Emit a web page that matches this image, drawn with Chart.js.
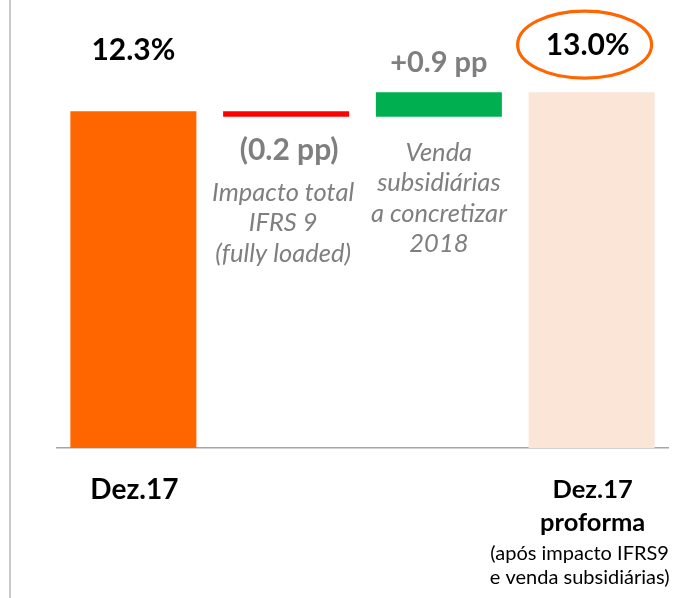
<!DOCTYPE html>
<html>
<head>
<meta charset="utf-8">
<script src="https://cdn.jsdelivr.net/npm/chart.js@4/dist/chart.umd.min.js"></script>
<style>
  html, body { margin: 0; padding: 0; background: #ffffff; }
  #wrap { position: relative; width: 686px; height: 598px; overflow: hidden; }
  #divider { position: absolute; left: 9px; top: 0; width: 2px; height: 598px; background: #c9c9c9; }
  #c { position: absolute; left: 0; top: 0; }
</style>
</head>
<body>
<div id="wrap">
  <div id="divider"></div>
  <canvas id="c" width="686" height="598"></canvas>
</div>
<script>
// ---- data ----
const categories = ["Dez.17", "IFRS 9", "Venda subsidiárias", "Dez.17 proforma"];
const barKinds = ["total", "delta", "delta", "total"];
const values = [12.3, -0.2, 0.9, 13.0];
const valueLabels = ["12.3%", "(0.2 pp)", "+0.9 pp", "13.0%"];
const axisLabels = [["Dez.17"], [], [], ["Dez.17", "proforma"]];
const axisSubLabels = [[], [], [], ["(após impacto IFRS9", "e venda subsidiárias)"]];
const noteLabels = [[], ["Impacto total", "IFRS 9", "(fully loaded)"], ["Venda", "subsidiárias", "a concretizar", "2018"], []];
const barColors = ["#FF6600", "#FF0000", "#00B050", "#FBE5D6"];

// floating bars built from the values
let running = 0;
const floating = values.map((v, i) => {
  if (barKinds[i] === "total") { running = v; return [0, v]; }
  const start = running; running = +(running + v).toFixed(4);
  return [start, running];
});

const FONT = "Lato, 'Open Sans', sans-serif";
const GRAY = "#7F7F7F";

const textPlugin = {
  id: "texts",
  afterDatasetsDraw(chart) {
    const ctx = chart.ctx;
    const meta = chart.getDatasetMeta(0);
    const ys = chart.scales.y;
    const base = ys.getPixelForValue(0);
    ctx.save();
    ctx.textAlign = "center";
    ctx.textBaseline = "middle";
    meta.data.forEach((bar, i) => {
      const x = bar.x;
      const top = Math.min(bar.y, bar.base);
      const bottom = Math.max(bar.y, bar.base);
      if (i === 0) {
        ctx.fillStyle = "#000";
        ctx.font = "bold 30px " + FONT;
        ctx.fillText(valueLabels[i], x, top - 61);
      } else if (i === 3) {
        ctx.fillStyle = "#000";
        ctx.font = "bold 30px " + FONT;
        ctx.fillText(valueLabels[i], x - 4, top - 47);
        ctx.strokeStyle = "#FF6600";
        ctx.lineWidth = 3.2;
        ctx.beginPath();
        ctx.ellipse(x - 7, top - 47.5, 67, 33.5, 0, 0, Math.PI * 2);
        ctx.stroke();
      } else if (i === 1) {
        ctx.fillStyle = GRAY;
        ctx.font = "bold 30px " + FONT;
        ctx.fillText(valueLabels[i], x + 3, bottom + 34);
        ctx.font = "italic 25.5px " + FONT;
        noteLabels[i].forEach((t, k) => ctx.fillText(t, x - 3, bottom + 76 + k * 30.5));
      } else if (i === 2) {
        ctx.fillStyle = GRAY;
        ctx.font = "bold 29px " + FONT;
        ctx.fillText(valueLabels[i], x, top - 29);
        ctx.font = "italic 25.5px " + FONT;
        noteLabels[i].forEach((t, k) => ctx.fillText(t, x, bottom + 36 + k * 30.5));
      }
      // axis labels
      ctx.fillStyle = "#000";
      ctx.font = (i === 0 ? "bold 28px " : "bold 25.5px ") + FONT;
      axisLabels[i].forEach((t, k) => ctx.fillText(t, x + 1, base + 42 + k * 33));
      ctx.font = "20px " + FONT;
      axisSubLabels[i].forEach((t, k) => ctx.fillText(t, x - 12, base + 106 + k * 24));
    });
    ctx.restore();
  }
};

new Chart(document.getElementById("c"), {
  type: "bar",
  data: {
    labels: categories,
    datasets: [{
      data: floating,
      backgroundColor: barColors,
      borderWidth: 0,
      categoryPercentage: 1.0,
      barPercentage: 0.825
    }]
  },
  options: {
    responsive: false,
    animation: false,
    events: [],
    layout: { padding: { left: 57, right: 18, top: 10, bottom: 150 } },
    plugins: { legend: { display: false }, tooltip: { enabled: false } },
    scales: {
      x: {
        grid: { display: false, drawTicks: false },
        border: { display: true, color: "#A6A6A6", width: 1.5 },
        ticks: { display: false }
      },
      y: {
        display: false,
        min: 0,
        max: 16
      }
    }
  },
  plugins: [textPlugin]
});
</script>
</body>
</html>
